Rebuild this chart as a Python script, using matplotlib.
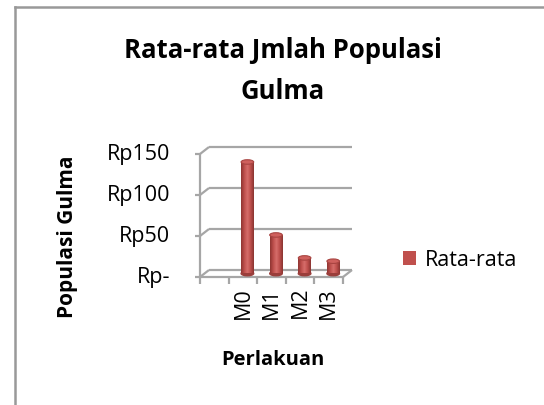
import numpy as np
import matplotlib
matplotlib.use('Agg')
import matplotlib.pyplot as plt
from matplotlib.patches import Rectangle, Ellipse, Patch
from matplotlib.lines import Line2D
from matplotlib.colors import LinearSegmentedColormap

# data
categories = ['M0', 'M1', 'M2', 'M3']
values = [136, 47, 19, 15]
yticks = [0, 50, 100, 150]
ytick_labels = ['Rp-', 'Rp50', 'Rp100', 'Rp150']
series_name = 'Rata-rata'
title = 'Rata-rata Jmlah Populasi\nGulma'
xlabel = 'Perlakuan'
ylabel = 'Populasi Gulma'

plt.rcParams['font.family'] = ['Open Sans', 'DejaVu Sans']

W, H = 544, 406
fig = plt.figure(figsize=(W / 100, H / 100), dpi=100)
# front plane of the 3D box
ax = fig.add_axes([200 / W, (H - 278) / H, 143 / W, 123 / H])
ax.set_axis_off()
n_slots = len(categories) + 1   # excel left one empty slot in front
x0, x1 = -0.5, n_slots - 0.5
ax.set_xlim(x0, x1)
ax.set_ylim(0, 150)

bb = ax.get_window_extent()
ppx = bb.width / (x1 - x0)
ppy = bb.height / 150.0
ddx = 9 / ppx     # depth offset, 9px right
ddy = 7 / ppy     # and 7px up

grid_c = '#A6A6A6'
lw = 1.6
kw = dict(color=grid_c, lw=lw, clip_on=False, solid_capstyle='butt')

# back wall gridlines + left diagonals
for v in yticks:
    ax.plot([x0 + ddx, x1 + ddx], [v + ddy, v + ddy], **kw)
    ax.plot([x0, x0 + ddx], [v, v + ddy], **kw)
    ax.plot([x0 - 5 / ppx, x0], [v, v], **kw)
# front vertical axis
ax.plot([x0, x0], [0, 150], **kw)
# floor front edge and right edge
ax.plot([x0, x1], [0, 0], **kw)
ax.plot([x1, x1 + ddx], [0, ddy], **kw)
# category ticks
for i in range(n_slots + 1):
    ax.plot([x0 + i, x0 + i], [0, -7 / ppy], **kw)

# cylinders
cmap = LinearSegmentedColormap.from_list(
    'cyl', ['#8E3532', '#BD4E4B', '#D66E6B', '#BD4E4B', '#8A3431'])
grad = np.linspace(0, 1, 64).reshape(1, -1)
bw = 0.44
eh = 4.5 / ppy
for i, val in enumerate(values):
    xc = i + 1 + ddx / 2
    yb = ddy / 2
    body = Rectangle((xc - bw / 2, yb), bw, val, transform=ax.transData)
    base = Ellipse((xc, yb), bw, eh, color='#9A3E3B', clip_on=False, zorder=2)
    ax.add_patch(base)
    im = ax.imshow(grad, cmap=cmap, aspect='auto', zorder=3,
                   extent=[xc - bw / 2, xc + bw / 2, yb, yb + val])
    im.set_clip_path(body)
    top = Ellipse((xc, yb + val), bw, eh, facecolor='#CF605D',
                  edgecolor='#A84441', lw=0.8, clip_on=False, zorder=4)
    ax.add_patch(top)
ax.set_xlim(x0, x1)
ax.set_ylim(0, 150)

# tick labels
for v, lab in zip(yticks, ytick_labels):
    ax.text(x0 - 30 / ppx, v, lab, ha='right', va='center', fontsize=15.5)
for i, lab in enumerate(categories):
    ax.text(i + 1, -9 / ppy, lab, ha='center', va='top', rotation=90,
            fontsize=15.5)

fig.text(283 / W, 1 - 71 / H, title, ha='center', va='center',
         fontsize=18.5, fontweight='bold', linespacing=1.62)
fig.text(273 / W, 1 - 360 / H, xlabel, ha='center', va='center',
         fontsize=14.5, fontweight='bold')
fig.text(68 / W, 1 - 237 / H, ylabel, ha='center', va='center',
         fontsize=15, fontweight='bold', rotation=90)

handle = Patch(facecolor='#C0504D', edgecolor='none')
fig.legend([handle], [series_name], loc='center left',
           bbox_to_anchor=(392 / W, 1 - 261 / H), frameon=False,
           fontsize=15.5, handlelength=0.6, handleheight=0.6,
           handletextpad=0.45, borderpad=0)

# chart border (only left and top visible)
fig.add_artist(Line2D([14.5 / W, 14.5 / W], [0, 1 - 8 / H],
                      transform=fig.transFigure, color='#999999', lw=1.8))
fig.add_artist(Line2D([14.5 / W, 1], [1 - 8 / H, 1 - 8 / H],
                      transform=fig.transFigure, color='#999999', lw=1.8))

fig.savefig('out.png', dpi=100)
